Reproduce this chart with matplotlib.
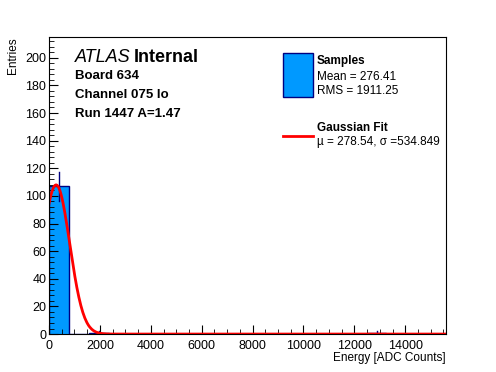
import numpy as np
import matplotlib.pyplot as plt
from matplotlib.ticker import MultipleLocator

plt.rcParams['font.family'] = ['Liberation Sans', 'DejaVu Sans']

# histogram data
x_max = 15600
counts = [107, 0, 1, 0, 0, 0, 0, 0, 0, 0, 0, 0, 0, 0, 0, 0, 1, 0, 0, 0]
edges = np.linspace(0, x_max, len(counts) + 1)

# gaussian fit
fit_amp = 108.0
fit_mu = 278.54
fit_sigma = 534.849

fig = plt.figure(figsize=(4.96, 3.72), dpi=100)
ax = fig.add_axes([0.0988, 0.102, 0.8004, 0.7985])

ax.stairs(counts, edges, fill=True, color='#0099ff')
ax.stairs(counts, edges, color='#000080', linewidth=1)

centers = (edges[:-1] + edges[1:]) / 2
for c, n in zip(centers, counts):
    if n > 0:
        e = np.sqrt(n)
        ax.plot([c, c], [n - e, n + e], color='#000080', linewidth=1)

xs = np.linspace(0, x_max, 400)
ys = fit_amp * np.exp(-0.5 * ((xs - fit_mu) / fit_sigma) ** 2)
ax.plot(xs, ys, color='red', linewidth=2)

ax.set_xlim(0, x_max)
ax.set_ylim(0, 215)
ax.xaxis.set_major_locator(MultipleLocator(2000))
ax.xaxis.set_minor_locator(MultipleLocator(500))
ax.yaxis.set_major_locator(MultipleLocator(20))
ax.yaxis.set_minor_locator(MultipleLocator(4))
ax.tick_params(which='both', direction='in', top=False, right=False, labelsize=9)
ax.tick_params(which='major', length=6.8)
ax.tick_params(which='minor', length=3.4)
ax.tick_params(axis='y', pad=2)
ax.tick_params(axis='x', pad=4)

ax.set_xlabel('Energy [ADC Counts]', fontsize=8.5)
ax.xaxis.set_label_coords(1.0, -0.06)
ax.xaxis.label.set_horizontalalignment('right')
fig.text(13 / 496, 1 - 37 / 372, 'Entries', fontsize=8.5, rotation=90,
         ha='center', va='top')

# labels
fig.text(75 / 496, 1 - 57 / 372, 'ATLAS', fontsize=13, style='italic', va='center')
fig.text(134 / 496, 1 - 57 / 372, 'Internal', fontsize=13, weight='bold', va='center')
fig.text(75 / 496, 1 - 76 / 372, 'Board 634', fontsize=9.5, weight='bold', va='center')
fig.text(75 / 496, 1 - 95 / 372, 'Channel 075 lo', fontsize=9.5, weight='bold', va='center')
fig.text(75 / 496, 1 - 114 / 372, 'Run 1447 A=1.47', fontsize=9.5, weight='bold', va='center')

# legend
fig.patches.append(plt.Rectangle((283 / 496, 1 - 97 / 372), 30 / 496, 44 / 372,
                                 transform=fig.transFigure, facecolor='#0099ff',
                                 edgecolor='#000080', linewidth=1))
fig.text(317 / 496, 1 - 61 / 372, 'Samples', fontsize=8.5, weight='bold', va='center')
fig.text(317 / 496, 1 - 77 / 372, 'Mean = 276.41', fontsize=8.5, va='center')
fig.text(317 / 496, 1 - 91 / 372, 'RMS = 1911.25', fontsize=8.5, va='center')
fig.lines.append(plt.Line2D([283 / 496, 313 / 496], [1 - 136 / 372, 1 - 136 / 372],
                            transform=fig.transFigure, color='red', linewidth=2))
fig.text(317 / 496, 1 - 128 / 372, 'Gaussian Fit', fontsize=8.5, weight='bold', va='center')
fig.text(317 / 496, 1 - 142 / 372, 'µ = 278.54, σ =534.849', fontsize=8.5, va='center')

fig.savefig('out.png', dpi=100)
